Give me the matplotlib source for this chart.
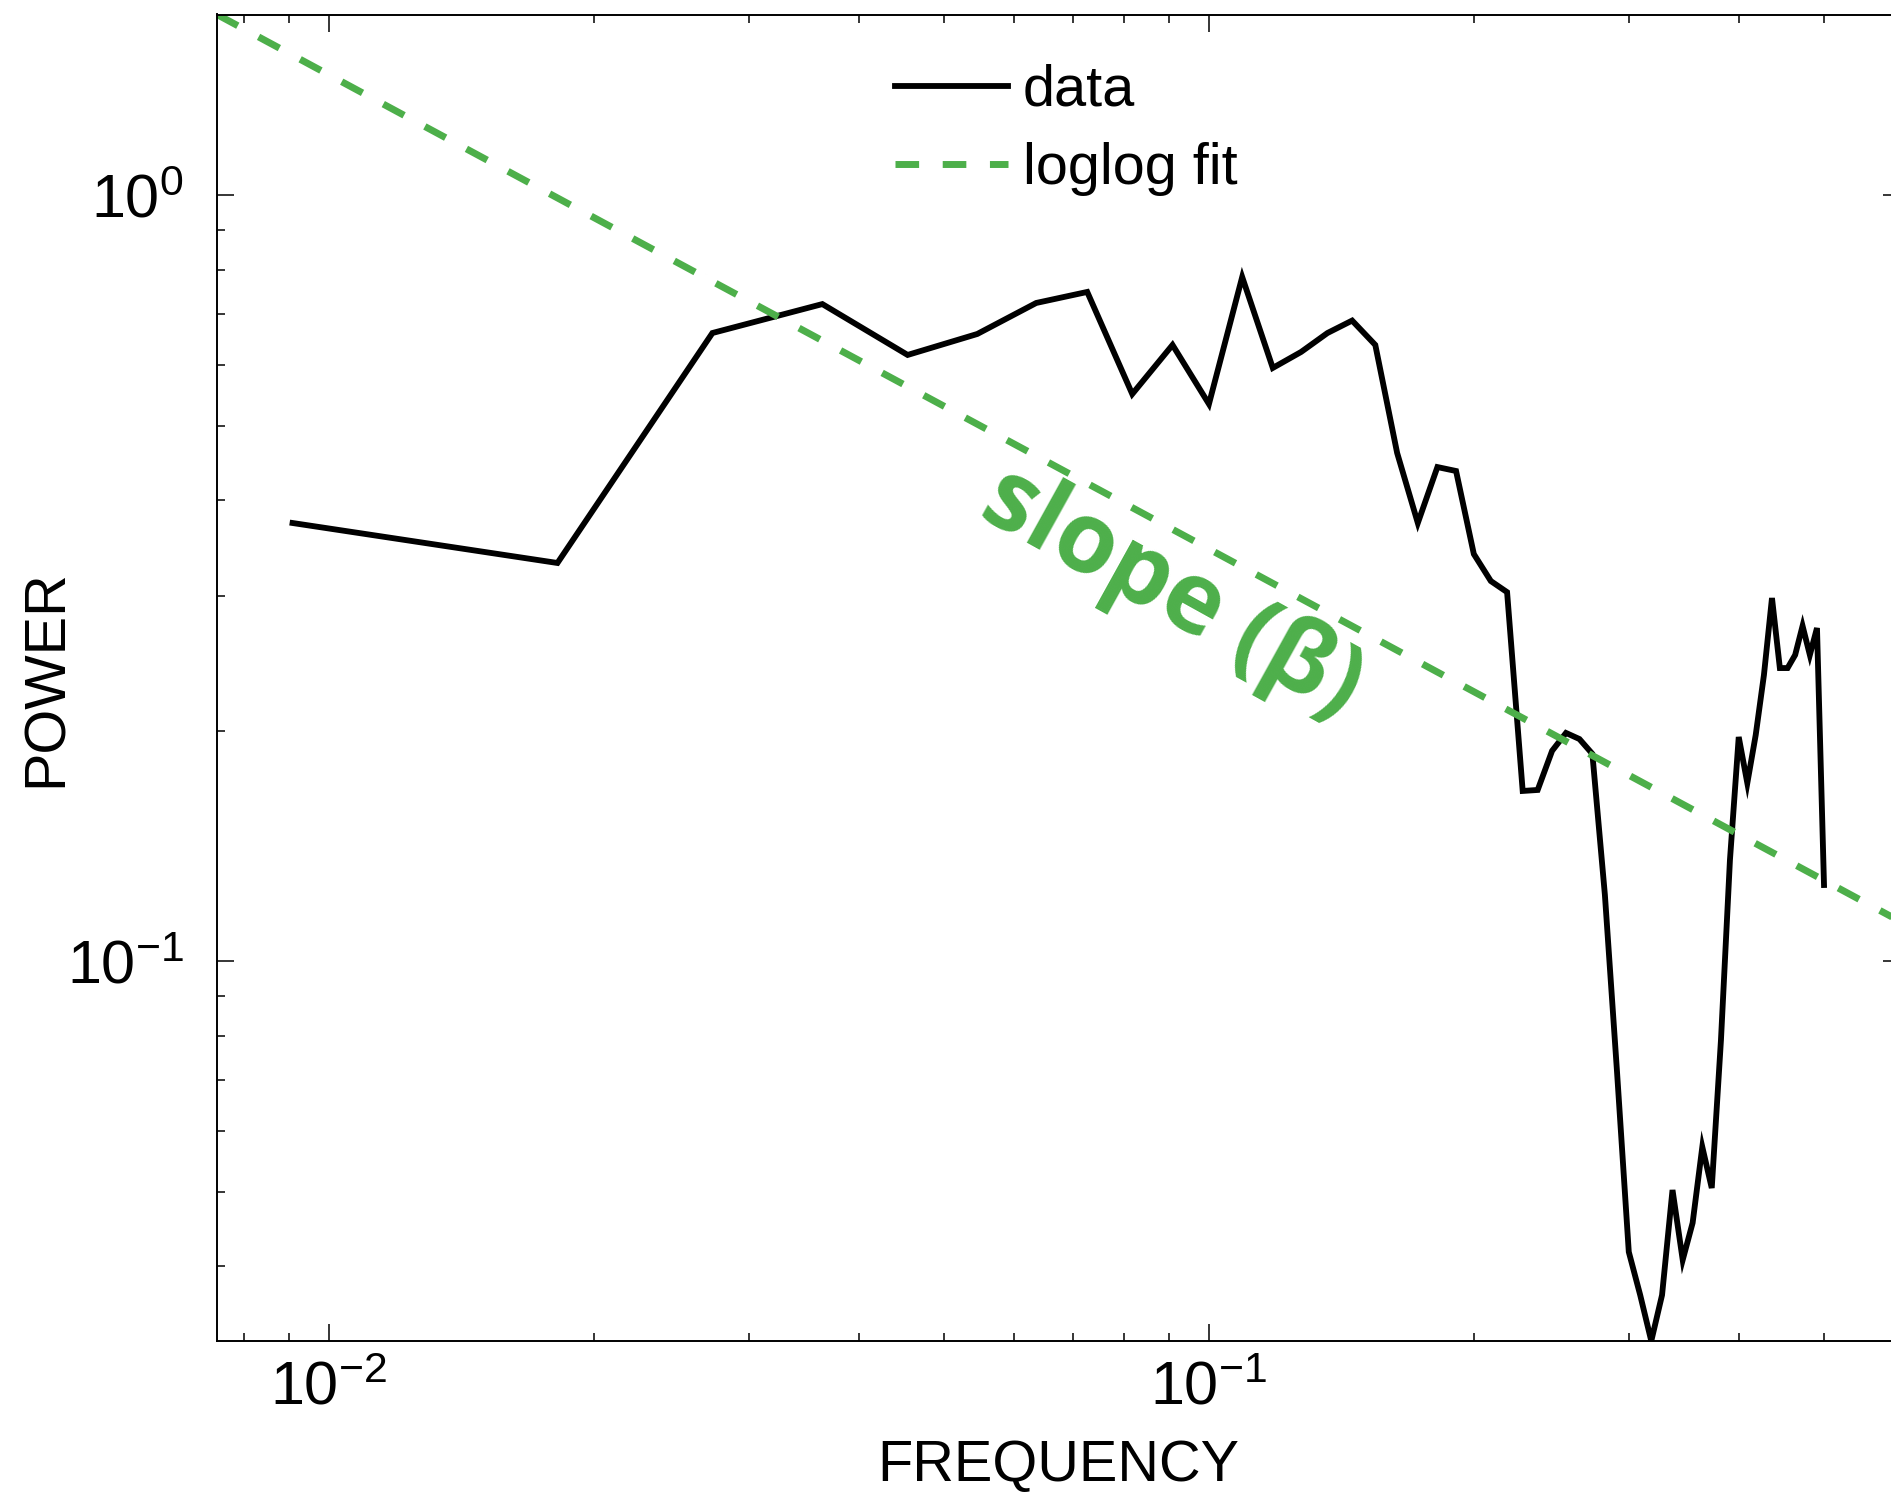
import numpy as np
import matplotlib
matplotlib.use("Agg")
import matplotlib.pyplot as plt
from matplotlib.ticker import LogLocator, NullFormatter

# spectrum: power at harmonics k / n_samples
n_samples = 110
harmonics = np.arange(1, 56)
power = [0.3735, 0.3312, 0.6612, 0.7213, 0.6190, 0.6593, 0.7237, 0.7481,
         0.5504, 0.6379, 0.5341, 0.7824, 0.5953, 0.6246, 0.6612, 0.6864,
         0.6379, 0.4610, 0.3735, 0.4419, 0.4367, 0.3402, 0.3137, 0.3034,
         0.1669, 0.1674, 0.1883, 0.1987, 0.1951, 0.1866, 0.1221, 0.0717,
         0.04175, 0.03667, 0.03194, 0.03667, 0.05029, 0.04076, 0.04556,
         0.05723, 0.05059, 0.0789, 0.1356, 0.1963, 0.1709, 0.1975, 0.2365,
         0.2981, 0.2415, 0.2415, 0.2512, 0.2741, 0.2512, 0.2724, 0.1258]

# loglog fit: log10(P) = fit_logc - beta * log10(f)
fit_beta = 0.619
fit_logc = -1.0806
fit_range = [0.00746, 0.61]

GREEN = "#4daf4a"
LABEL_FONT = ["Liberation Sans", "DejaVu Sans"]
TICK_FONT = ["Liberation Sans Narrow", "Liberation Sans", "DejaVu Sans"]

freq = harmonics / n_samples
power = np.array(power)
fit_f = np.geomspace(fit_range[0], fit_range[1], 50)
fit_p = 10 ** fit_logc * fit_f ** (-fit_beta)

W, H = 1891, 1492
fig = plt.figure(figsize=(W / 100, H / 100), dpi=100)
left, right, top, bottom = 217, 1900, 14.5, 1341
ax = fig.add_axes([left / W, 1 - bottom / H, (right - left) / W, (bottom - top) / H])

ax.loglog(freq, power, color="black", lw=4.2, solid_joinstyle="miter", label="data")
ax.loglog(fit_f, fit_p, color=GREEN, lw=5, linestyle=(0, (3.4, 3.4)),
          dash_capstyle="butt", label="loglog fit")

ax.set_xlim(fit_range[0], fit_range[1])
ax.set_ylim(power.min(), fit_p[0])

ax.xaxis.set_major_locator(LogLocator(base=10))
ax.xaxis.set_minor_locator(LogLocator(base=10, subs=np.arange(2, 10)))
ax.yaxis.set_major_locator(LogLocator(base=10))
ax.yaxis.set_minor_locator(LogLocator(base=10, subs=np.arange(2, 10)))
ax.xaxis.set_minor_formatter(NullFormatter())
ax.yaxis.set_minor_formatter(NullFormatter())

ax.tick_params(which="both", direction="in", top=True, right=True, width=1.1)
ax.tick_params(which="major", length=12)
ax.tick_params(which="minor", length=6)
ax.tick_params(axis="x", pad=14)
ax.tick_params(axis="y", pad=24)
for sp in ax.spines.values():
    sp.set_linewidth(1.4)

for lab in ax.get_xticklabels() + ax.get_yticklabels():
    lab.set_family(TICK_FONT)
    lab.set_fontsize(44)

ax.set_xlabel("FREQUENCY", family=LABEL_FONT, fontsize=41.5, va="top")
ax.set_ylabel("POWER", family=LABEL_FONT, fontsize=41.5)
ax.xaxis.set_label_coords(0.5, -(1439 - bottom) / (bottom - top))
ax.yaxis.set_label_coords((74 - left) / (right - left), 0.5)

leg = ax.legend(loc="upper left", bbox_to_anchor=(895 / W, 1 - 64 / H),
                bbox_transform=fig.transFigure, frameon=False,
                prop={"family": LABEL_FONT, "size": 41.5},
                handlelength=1.96, handletextpad=0.26, labelspacing=0.42,
                borderpad=0, borderaxespad=0)

ax.text(0.0908, 0.302, "slope (\u03b2)", color=GREEN, fontsize=71,
        family=["Open Sans", "DejaVu Sans"], fontweight="bold",
        rotation=-29, ha="center", va="center")

fig.savefig("out.png", dpi=100)
